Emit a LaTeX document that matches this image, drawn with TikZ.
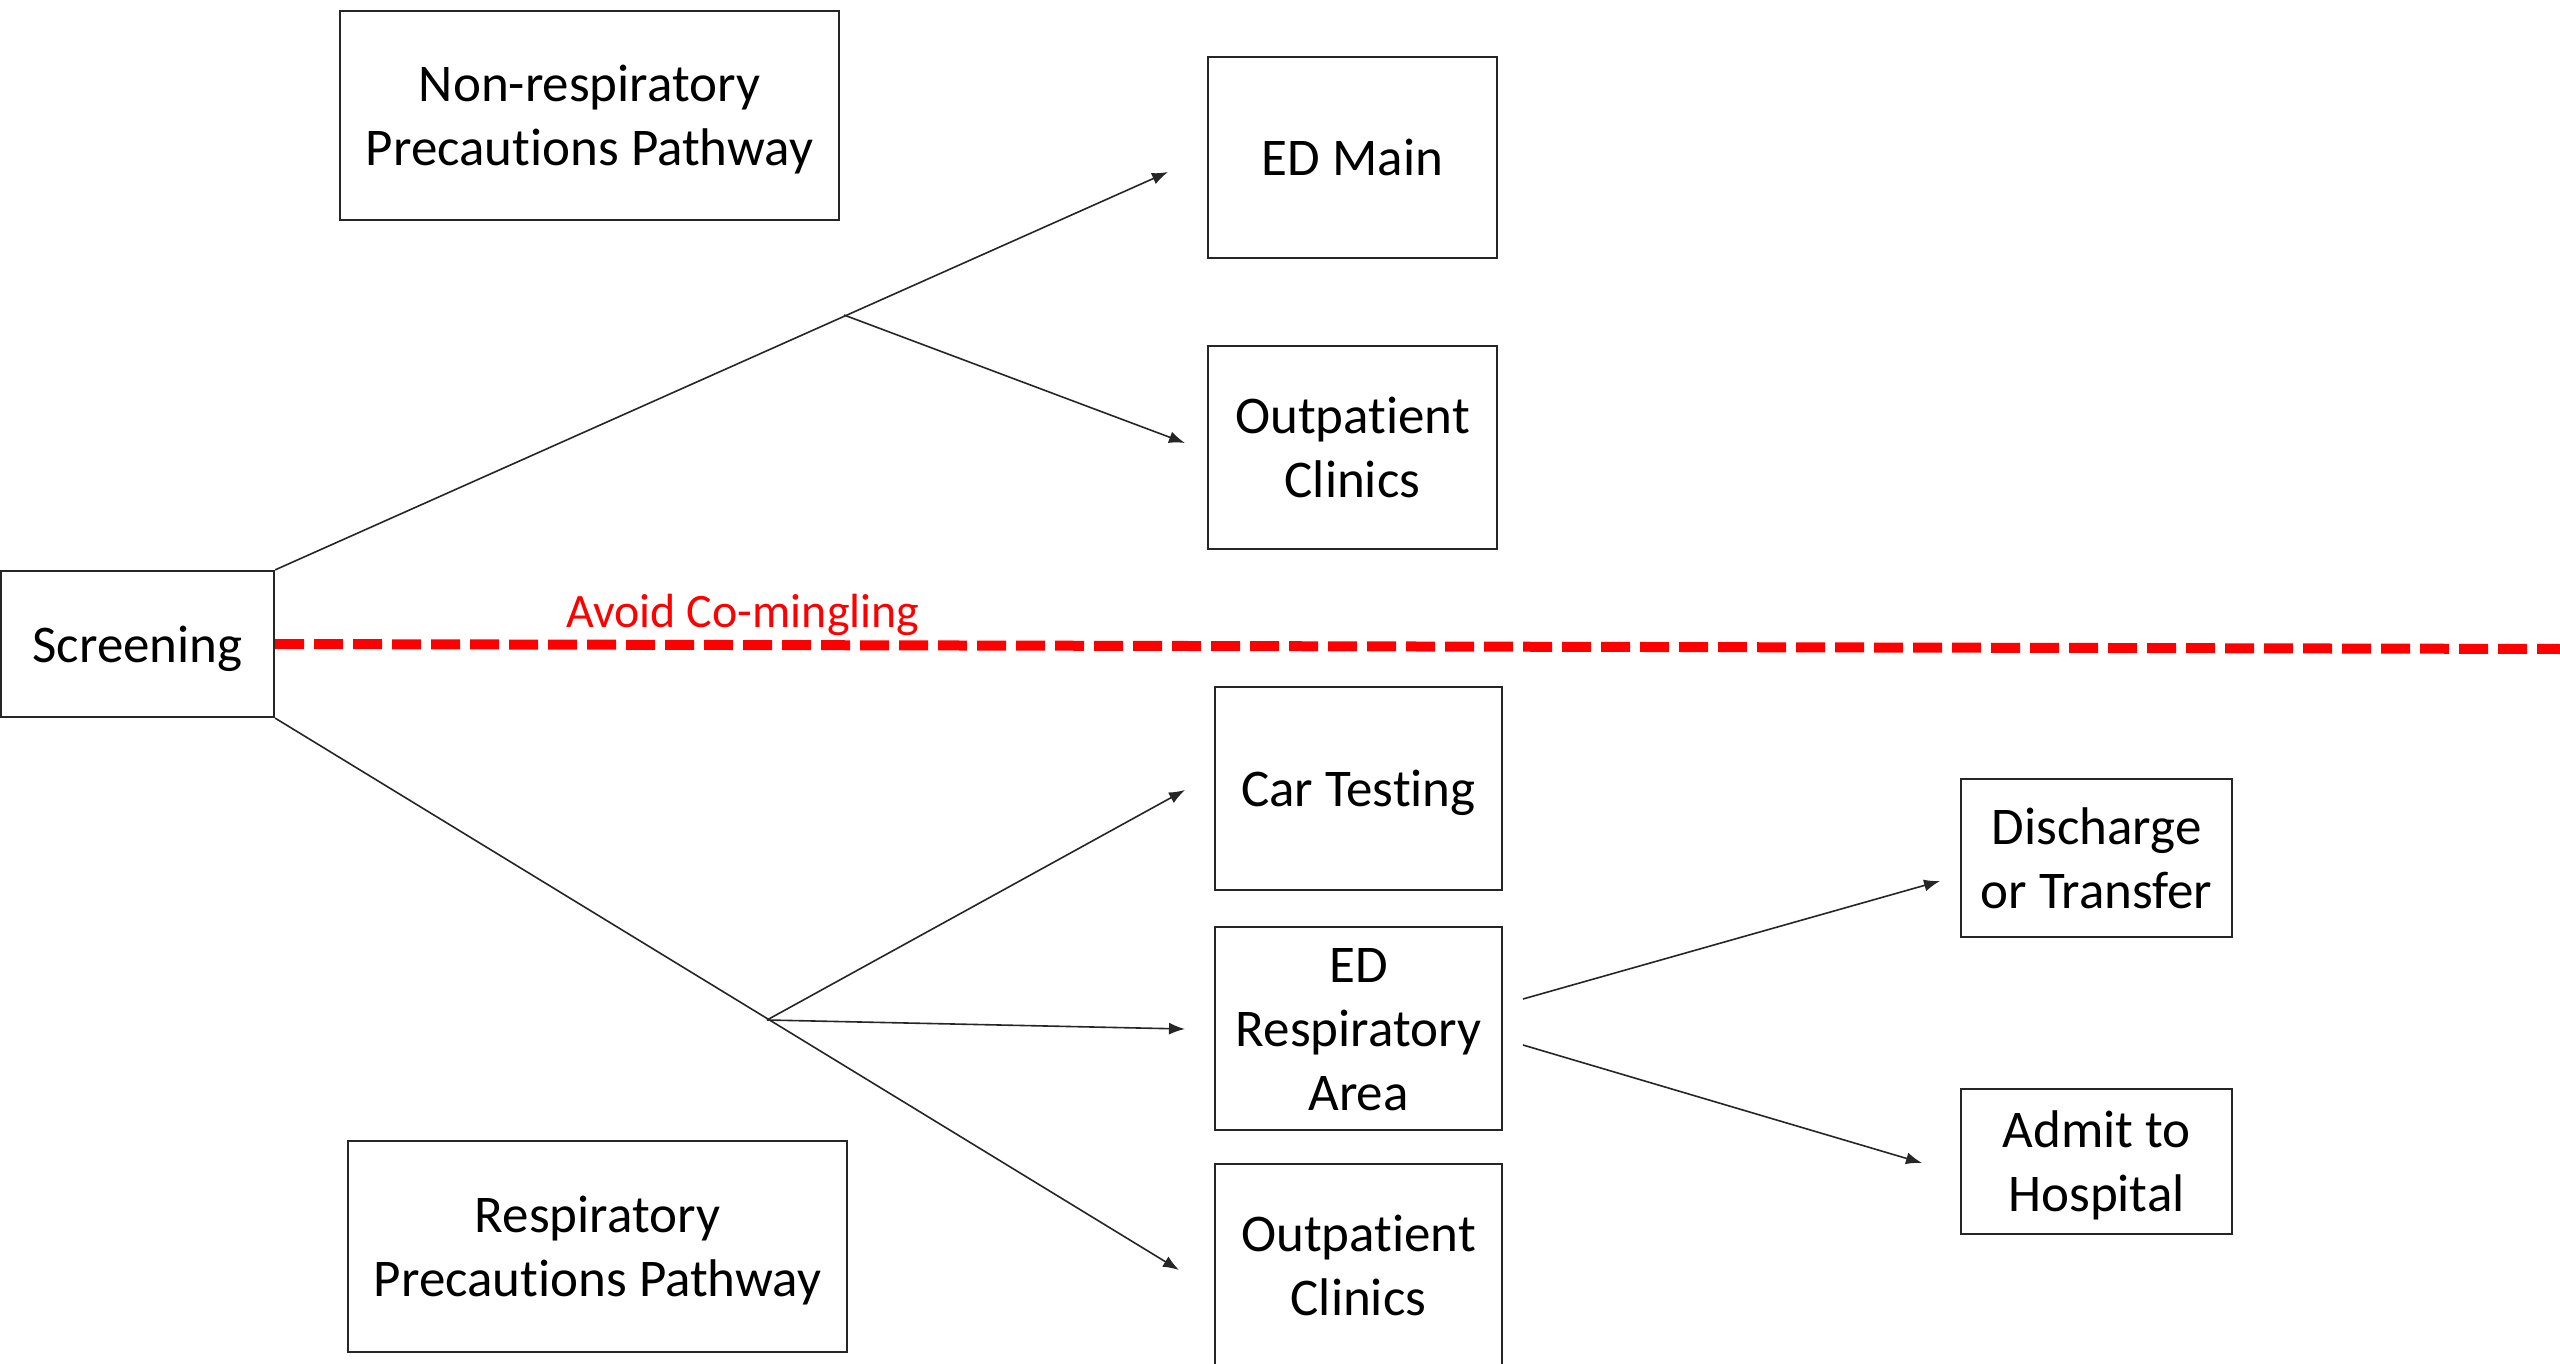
\documentclass[tikz,border=0pt]{standalone}
\usepackage{fontspec}
\setmainfont{Carlito}[Ligatures=NoCommon]
\usetikzlibrary{arrows.meta}
\newcommand{\boxtext}[1]{\begin{tabular}{@{}c@{}}\rule{0pt}{28pt}#1\end{tabular}}
\begin{document}
\begin{tikzpicture}[x=0.5pt,y=-0.5pt,
  box/.style={draw=black!85,line width=1.1pt,rectangle,inner sep=0pt,
    font=\fontsize{26.5}{32}\selectfont},
  conn/.style={draw=black!85,line width=0.8pt},
  arr/.style={conn,-{Latex[length=8pt,width=6pt]}},
  redline/.style={draw=red,line width=5pt,dash pattern=on 14.5pt off 5pt},
  redlabel/.style={text=red,font=\fontsize{24}{28}\selectfont,inner sep=0pt}]
\useasboundingbox (0,0) rectangle (2560,1364);
\fill[white] (0,0) rectangle (2560,1364);

\node[box,minimum width=249.5pt,minimum height=104.5pt] (nonresp) at (589.5,115.5) {\boxtext{Non-respiratory\\Precautions Pathway}};
\node[box,minimum width=144.5pt,minimum height=100.5pt] (edmain) at (1352.5,157.5) {\boxtext{ED Main}};
\node[box,minimum width=144.5pt,minimum height=101.5pt] (outtop) at (1352.5,447.5) {\boxtext{Outpatient\\Clinics}};
\node[box,minimum width=136.5pt,minimum height=73pt] (screen) at (137.5,644) {\boxtext{Screening}};
\node[box,minimum width=143.5pt,minimum height=101.5pt] (car) at (1358.5,788.5) {\boxtext{Car Testing}};
\node[box,minimum width=143.5pt,minimum height=101.5pt] (edresp) at (1358.5,1028.5) {\boxtext{ED\\Respiratory\\Area}};
\node[box,minimum width=143.5pt,minimum height=101.5pt] (outbot) at (1358.5,1265.5) {\boxtext{Outpatient\\Clinics}};
\node[box,minimum width=135.5pt,minimum height=79pt] (discharge) at (2096.5,858) {\boxtext{Discharge\\or Transfer}};
\node[box,minimum width=135.5pt,minimum height=72.5pt] (admit) at (2096.5,1161.5) {\boxtext{Admit to\\Hospital}};
\node[box,minimum width=249.5pt,minimum height=105.5pt] (resp) at (597.5,1246.5) {\boxtext{Respiratory\\Precautions Pathway}};

% red separator
\coordinate (redend) at (2560,649);
\draw[redline] (screen.east) -- (redend);
\node[redlabel] (avoid) at (743,615) {Avoid Co-mingling};

% upper pathway
\coordinate (b1) at (844,315);
\coordinate (t1) at (1168,172);
\coordinate (t2) at (1185,443);
\draw[arr] (screen.north east) -- (t1);
\draw[arr] (b1) -- (t2);

% lower pathway
\coordinate (b2) at (767,1020);
\coordinate (t3) at (1185,790);
\coordinate (t4) at (1185,1029);
\coordinate (t5) at (1179,1270);
\draw[arr] (screen.south east) -- (t5);
\draw[arr] (b2) -- (t3);
\draw[arr] (b2) -- (t4);

% from ED respiratory area
\coordinate (s1) at (1523,999);
\coordinate (s2) at (1523,1045);
\coordinate (t6) at (1940,881);
\coordinate (t7) at (1922,1163);
\draw[arr] (s1) -- (t6);
\draw[arr] (s2) -- (t7);
\end{tikzpicture}
\end{document}
